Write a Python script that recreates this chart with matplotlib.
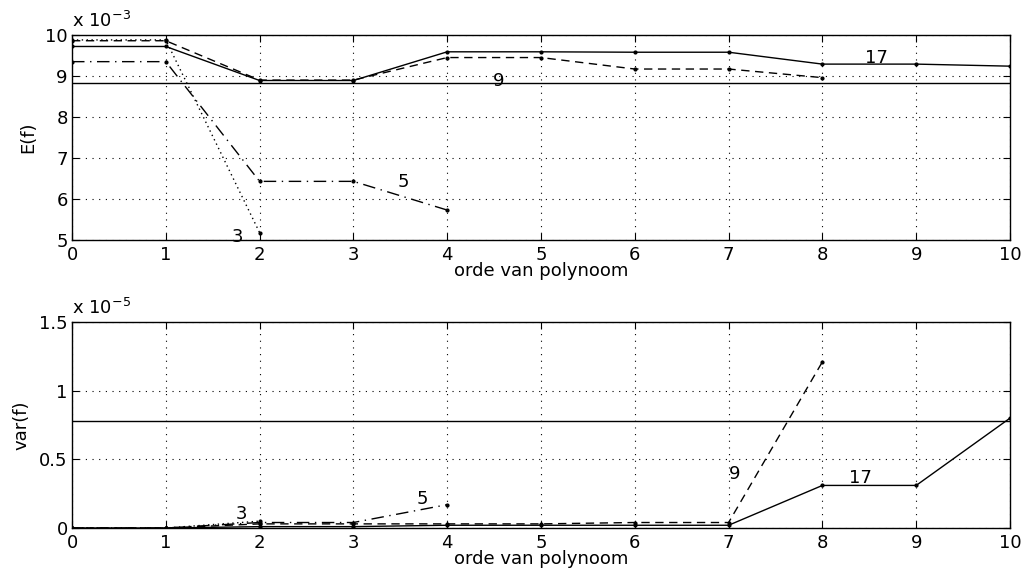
import matplotlib
matplotlib.use("Agg")
import matplotlib.pyplot as plt
from matplotlib.ticker import FuncFormatter

plt.rcParams['font.family'] = ['DejaVu Sans']
plt.rcParams['mathtext.fontset'] = 'dejavusans'

# polynomial order on the horizontal axis
order = [0, 1, 2, 3, 4, 5, 6, 7, 8, 9, 10]

# expected value E(f) per polynomial order, one series per number of points
e_n3 = [9.88e-3, 9.88e-3, 5.18e-3]
e_n5 = [9.35e-3, 9.35e-3, 6.43e-3, 6.43e-3, 5.73e-3]
e_n9 = [9.86e-3, 9.86e-3, 8.90e-3, 8.90e-3, 9.45e-3, 9.45e-3, 9.17e-3, 9.17e-3, 8.96e-3]
e_n17 = [9.72e-3, 9.72e-3, 8.89e-3, 8.89e-3, 9.59e-3, 9.59e-3, 9.58e-3, 9.58e-3, 9.29e-3, 9.29e-3, 9.24e-3]
e_ref = 8.83e-3

# variance var(f) per polynomial order
v_n3 = [0.0, 0.0, 0.05e-5]
v_n5 = [0.0, 0.0, 0.04e-5, 0.04e-5, 0.17e-5]
v_n9 = [0.0, 0.0, 0.03e-5, 0.03e-5, 0.03e-5, 0.03e-5, 0.04e-5, 0.04e-5, 1.21e-5]
v_n17 = [0.0, 0.0, 0.01e-5, 0.01e-5, 0.02e-5, 0.02e-5, 0.02e-5, 0.02e-5, 0.31e-5, 0.31e-5, 0.80e-5]
v_ref = 0.78e-5

labels = ["3", "5", "9", "17"]
e_label_pos = [(1.76, 5.07e-3), (3.53, 6.41e-3), (4.55, 8.88e-3), (8.58, 9.44e-3)]
v_label_pos = [(1.81, 0.10e-5), (3.74, 0.21e-5), (7.06, 0.39e-5), (8.41, 0.365e-5)]

styles = [dict(ls=(0, (1, 2.5))), dict(ls=(0, (9, 4, 1, 4))), dict(ls=(0, (6, 4))), dict(ls='-')]

FS = 13

fig = plt.figure(figsize=(10.27, 5.71), dpi=100)
W, H = 1027, 571
ax1 = fig.add_axes([72 / W, 1 - 240 / H, (1010 - 72) / W, (240 - 35) / H])
ax2 = fig.add_axes([72 / W, 1 - 528 / H, (1010 - 72) / W, (528 - 322) / H])


def draw(ax, series, ref, label_pos, scale, ylim, yticks, ylabel, exp_text):
    for vals, st in zip(series, styles):
        ax.plot(order[:len(vals)], vals, color='black', lw=1.0, marker='.',
                markersize=4, **st)
    ax.axhline(ref, color='black', lw=1.0)
    for lab, (x, y) in zip(labels, label_pos):
        ax.text(x, y, lab, fontsize=FS, ha='center', va='center')
    ax.set_xlim(0, 10)
    ax.set_ylim(*ylim)
    ax.set_xticks(order)
    ax.set_yticks(yticks)
    ax.yaxis.set_major_formatter(FuncFormatter(lambda v, p: '%g' % round(v / scale, 6)))
    ax.grid(True, color='black', ls=(0, (1, 5)), lw=0.8)
    ax.tick_params(direction='in', top=True, right=True, labelsize=FS, length=5)
    ax.tick_params(axis='x', pad=4)
    ax.tick_params(axis='y', pad=3)
    for s in ax.spines.values():
        s.set_linewidth(1.0)
    ax.set_xlabel('orde van polynoom', fontsize=FS, labelpad=-1)
    ax.set_ylabel(ylabel, fontsize=FS, labelpad=6)
    ax.text(0.0, 1.02, exp_text, transform=ax.transAxes, fontsize=FS,
            ha='left', va='bottom')


draw(ax1, [e_n3, e_n5, e_n9, e_n17], e_ref, e_label_pos, 1e-3,
     (5e-3, 10e-3), [5e-3, 6e-3, 7e-3, 8e-3, 9e-3, 10e-3], 'E(f)',
     'x 10$^{-3}$')
draw(ax2, [v_n3, v_n5, v_n9, v_n17], v_ref, v_label_pos, 1e-5,
     (0, 1.5e-5), [0, 0.5e-5, 1.0e-5, 1.5e-5], 'var(f)',
     'x 10$^{-5}$')

fig.savefig('out.png', dpi=100)
